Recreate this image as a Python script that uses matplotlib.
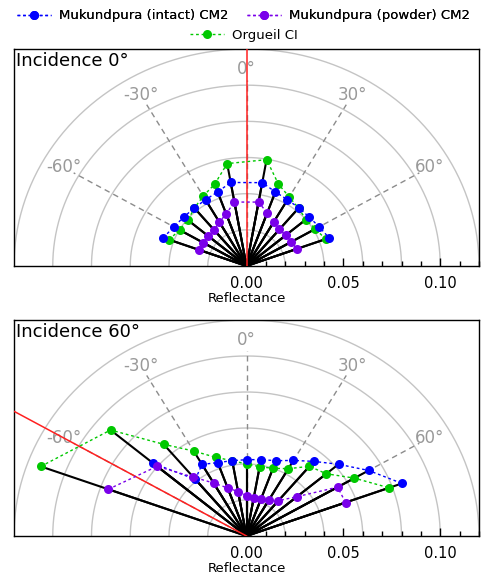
import numpy as np
import matplotlib
matplotlib.use("Agg")
import matplotlib.pyplot as plt
from matplotlib.lines import Line2D

# ---------------- data ----------------
angles_top = [-70, -60, -50, -40, -30, -20, -10, 10, 20, 30, 40, 50, 60, 70]
intact_0 = [0.0457, 0.0433, 0.0422, 0.0419, 0.0423, 0.0436, 0.0469,
            0.0468, 0.0436, 0.0423, 0.0420, 0.0422, 0.0433, 0.0454]
powder_0 = [0.0260, 0.0257, 0.0260, 0.0261, 0.0280, 0.0307, 0.0359,
            0.0359, 0.0312, 0.0281, 0.0264, 0.0264, 0.0263, 0.0279]
orgueil_0 = [0.0425, 0.0399, 0.0395, 0.0418, 0.0447, 0.0481, 0.0575,
             0.0597, 0.0482, 0.0441, 0.0418, 0.0400, 0.0410, 0.0435]

angles_intact_60 = [-50, -40, -30, -20, -10, 0, 10, 20, 30, 40, 50, 60, 70]
intact_60 = [0.0627, 0.0411, 0.0459, 0.0434, 0.0425, 0.0424, 0.0431,
             0.0445, 0.0485, 0.0541, 0.0620, 0.0728, 0.0854]
angles_powder_60 = [-70, -50, -40, -30, -20, -10, 0, 10, 20, 30, 40, 50, 60, 70]
powder_60 = [0.0759, 0.0602, 0.0427, 0.0340, 0.0284, 0.0251, 0.0225,
             0.0216, 0.0217, 0.0229, 0.0256, 0.0340, 0.0543, 0.0544]
angles_orgueil_60 = [-70, -50, -40, -30, -20, -10, 0, 10, 20, 30, 40, 50, 60, 70]
orgueil_60 = [0.1130, 0.0916, 0.0665, 0.0545, 0.0465, 0.0425, 0.0400,
              0.0391, 0.0400, 0.0432, 0.0505, 0.0538, 0.0643, 0.0783]

incidence = [0, -60]
panel_titles = ["Incidence 0°", "Incidence 60°"]
series_names = ["Mukundpura (intact) CM2", "Mukundpura (powder) CM2", "Orgueil CI"]
grid_radii = [0.02, 0.04, 0.06, 0.08, 0.10, 0.12]
grid_angles = [-60, -30, 0, 30, 60]

C_BLUE = "#0000ff"
C_PURPLE = "#7a00ea"
C_GREEN = "#00c800"
C_GRAY = "#c4c4c4"
C_LABEL = "#999999"


def pol(angle_deg, r):
    a = np.radians(np.asarray(angle_deg, dtype=float))
    r = np.asarray(r, dtype=float)
    return r * np.sin(a), r * np.cos(a)


fig = plt.figure(figsize=(4.87, 5.77), dpi=100)
ax_top = fig.add_axes([14 / 487, 1 - 266 / 577, 465 / 487, 217 / 577])
ax_bot = fig.add_axes([14 / 487, 1 - 536 / 577, 465 / 487, 216 / 577])

panels = [
    (ax_top, [(angles_top, intact_0, C_BLUE), (angles_top, powder_0, C_PURPLE),
              (angles_top, orgueil_0, C_GREEN)]),
    (ax_bot, [(angles_intact_60, intact_60, C_BLUE), (angles_powder_60, powder_60, C_PURPLE),
              (angles_orgueil_60, orgueil_60, C_GREEN)]),
]

zorders = {C_GREEN: 5, C_BLUE: 6, C_PURPLE: 7}

for i, (ax, series) in enumerate(panels):
    t = np.linspace(-90, 90, 361)
    for rr in grid_radii:
        x, y = pol(t, np.full_like(t, rr))
        ax.plot(x, y, color=C_GRAY, lw=1.0, zorder=1)
    for ga in grid_angles:
        x, y = pol([ga, ga], [0, 0.103])
        ax.plot(x, y, color="#8c8c8c", lw=1.0, ls=(0, (4, 3)), zorder=1.5)
        lx, ly = pol(ga, 0.109)
        ax.text(lx, ly, f"{ga}°", color=C_LABEL, fontsize=12,
                ha="center", va="center", zorder=1.5)
    # spokes
    for ang, vals, col in series:
        for a, v in zip(ang, vals):
            x, y = pol([a, a], [0, v])
            ax.plot(x, y, color="black", lw=1.5, zorder=3)
    # incidence line
    x, y = pol([incidence[i], incidence[i]], [0, 0.3])
    ax.plot(x, y, color="#ff2020", lw=1.1, zorder=3.5)
    # series
    for ang, vals, col in series:
        x, y = pol(ang, vals)
        ax.plot(x, y, color=col, ls=(0, (2, 2)), lw=1.0, marker="o",
                markersize=6.5, markeredgewidth=0, zorder=zorders[col])

    ax.set_xlim(-0.12, 0.12)
    ax.set_ylim(0, 0.12)
    for s in ax.spines.values():
        s.set_linewidth(1.0)
        s.set_color("black")
    ax.set_yticks([])
    ax.set_xticks([0.0, 0.05, 0.10])
    ax.set_xticklabels(["0.00", "0.05", "0.10"], fontsize=10.5)
    ax.set_xticks([0.01 * k for k in range(1, 13) if k not in (5, 10)], minor=True)
    ax.tick_params(axis="x", which="major", direction="in", length=6, width=1, pad=7)
    ax.tick_params(axis="x", which="minor", direction="in", length=3.5, width=1)
    ax.set_xlabel("Reflectance", fontsize=9.5, labelpad=1)
    ax.text(0.004, 0.985, panel_titles[i], transform=ax.transAxes,
            fontsize=13, ha="left", va="top", zorder=10)

handles = [Line2D([], [], color=c, ls=(0, (2, 2)), lw=1.0, marker="o",
                  markersize=6.5, markeredgewidth=0) for c in (C_BLUE, C_PURPLE, C_GREEN)]
leg1 = fig.legend(handles[:2], series_names[:2], loc="center", ncol=2,
                  bbox_to_anchor=(0.5, 1 - 16 / 577), frameon=False, fontsize=9.5,
                  handlelength=2.6, handletextpad=0.6, columnspacing=1.4,
                  borderpad=0, numpoints=1)
fig.add_artist(leg1)
leg2 = fig.legend(handles[2:], series_names[2:], loc="center", ncol=1,
                  bbox_to_anchor=(0.5, 1 - 35 / 577), frameon=False, fontsize=9.5,
                  handlelength=2.6, handletextpad=0.6, borderpad=0, numpoints=1)

fig.savefig("out.png", dpi=100)
